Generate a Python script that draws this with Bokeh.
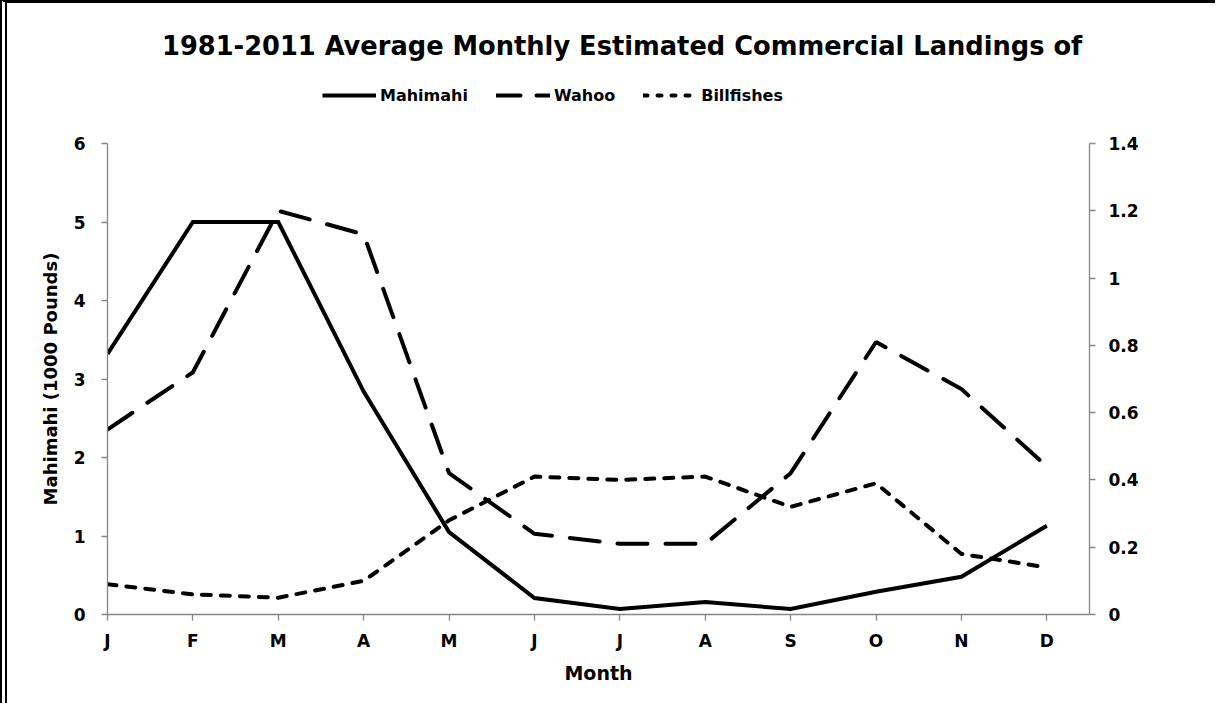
import math
from bokeh.plotting import figure
from bokeh.layouts import column
from bokeh.models import (Range1d, LinearAxis, FixedTicker, CustomJSTickFormatter,
                          Legend, LegendItem, Label)
from bokeh.embed import file_html
from bokeh.resources import INLINE

months = ["J", "F", "M", "A", "M", "J", "J", "A", "S", "O", "N", "D"]
mahimahi = [3.32, 5.0, 5.0, 2.84, 1.05, 0.21, 0.07, 0.16, 0.07, 0.29, 0.48, 1.13]
wahoo = [0.55, 0.72, 1.20, 1.13, 0.42, 0.24, 0.21, 0.21, 0.42, 0.81, 0.67, 0.44]
billfishes = [0.09, 0.06, 0.05, 0.10, 0.28, 0.41, 0.40, 0.41, 0.32, 0.39, 0.18, 0.14]
series_names = ["Mahimahi", "Wahoo", "Billfishes"]
left_ticks = [0, 1, 2, 3, 4, 5, 6]
right_ticks = [0, 0.2, 0.4, 0.6, 0.8, 1.0, 1.2, 1.4]
title_text = "1981-2011 Average Monthly Estimated Commercial Landings of"
right_label_text = "Wahoo and Billfishes\n(1000 Pounds)"

FONT = "DejaVu Sans"
AXC = "#868686"
W = 1208
HT, HM = 120, 580
FRAME_W = 975  # width of the plotting area in pixels (header shares it)

xs = list(range(len(months)))

# ---------------- header: title + legend ----------------
top = figure(width=W, height=HT, output_backend="svg", toolbar_location=None,
             x_range=Range1d(0, FRAME_W), y_range=Range1d(0, HT),
             x_axis_location=None, y_axis_location=None, title_location=None,
             min_border=0)
top.extra_y_ranges = {"off": Range1d(1000, 1001)}
top.grid.visible = False
top.outline_line_color = None
top.background_fill_color = "white"
top.border_fill_color = "white"

top.add_layout(Label(x=511, y=HT - 42, text=title_text, text_align="center",
                     text_baseline="middle", text_font=FONT, text_font_style="bold",
                     text_font_size="25.7px", text_color="black"))

# legend sample lines (their data fall outside the header's visible range)
l1 = top.line(xs, mahimahi, y_range_name="off", line_color="black", line_width=4)
l2 = top.line(xs, wahoo, y_range_name="off", line_color="black", line_width=4,
              line_dash="24 16", line_cap="round")
l3 = top.line(xs, billfishes, y_range_name="off", line_color="black", line_width=4,
              line_dash="4 10", line_cap="round")
legend = Legend(items=[LegendItem(label=n, renderers=[r])
                       for n, r in zip(series_names, [l1, l2, l3])],
                orientation="horizontal", location=(215, 18),
                glyph_width=54, glyph_height=20, label_standoff=4, spacing=28,
                padding=0, margin=0, border_line_color=None,
                background_fill_alpha=0,
                label_text_font=FONT, label_text_font_style="bold",
                label_text_font_size="16px", label_text_color="black")
top.add_layout(legend, "center")

# ---------------- main chart ----------------
p = figure(width=W, height=HM, output_backend="svg", toolbar_location=None,
           x_range=Range1d(0, 11.5), y_range=Range1d(0, 6), title_location=None,
           min_border_left=100, min_border_right=126, min_border_top=20,
           min_border_bottom=89)
p.extra_y_ranges = {"right": Range1d(0, 1.4)}
p.grid.visible = False
p.outline_line_color = None
p.background_fill_color = "white"
p.border_fill_color = "white"

p.line(xs, mahimahi, line_color="black", line_width=4, line_join="miter")
p.line(xs, wahoo, y_range_name="right", line_color="black", line_width=4,
       line_dash="30 18", line_cap="round")
p.line(xs, billfishes, y_range_name="right", line_color="black", line_width=4,
       line_dash="9 10", line_cap="round")

rax = LinearAxis(y_range_name="right", ticker=FixedTicker(ticks=right_ticks),
                 formatter=CustomJSTickFormatter(code="return String(Math.round(tick*10)/10);"))
p.add_layout(rax, "right")

# right-hand axis title, reading bottom-to-top as in the original
p.add_layout(Label(x=12.54, y=3.0, text=right_label_text, angle=math.pi / 2,
                   text_align="center", text_baseline="middle", text_font=FONT,
                   text_font_style="bold", text_font_size="19px",
                   text_color="black"))

p.xaxis.ticker = FixedTicker(ticks=xs)
p.xaxis.major_label_overrides = {i: m for i, m in enumerate(months)}
p.xaxis.axis_label = "Month"
p.yaxis[0].ticker = FixedTicker(ticks=left_ticks)
p.yaxis[0].axis_label = "Mahimahi (1000 Pounds)"

for ax in p.xaxis + p.yaxis:
    ax.axis_line_color = AXC
    ax.axis_line_width = 1.3
    ax.major_tick_line_color = AXC
    ax.major_tick_line_width = 1.3
    ax.major_tick_in = 0
    ax.major_tick_out = 6
    ax.minor_tick_line_color = None
    ax.major_label_text_font = FONT
    ax.major_label_text_font_style = "bold"
    ax.major_label_text_font_size = "17px"
    ax.major_label_text_color = "black"
    ax.axis_label_text_font = FONT
    ax.axis_label_text_font_style = "bold"
    ax.axis_label_text_color = "black"

p.xaxis.major_label_standoff = 10
p.xaxis.axis_label_standoff = 8
p.xaxis.axis_label_text_font_size = "19px"
p.yaxis[0].major_label_standoff = 16
p.yaxis[0].axis_label_standoff = 10
p.yaxis[0].axis_label_text_font_size = "18px"
rax.major_label_standoff = 13

page = column(top, p, spacing=0)
page.styles = {"border-left": "7px double black", "border-top": "3px solid black"}

open("out.html", "w").write(file_html(page, INLINE))
